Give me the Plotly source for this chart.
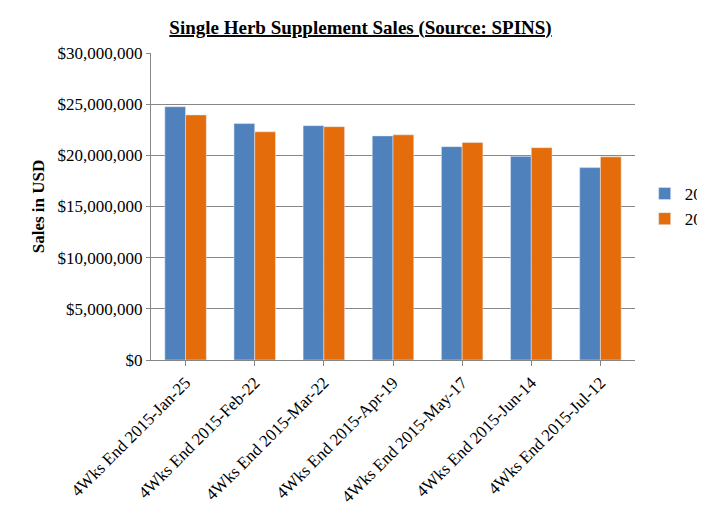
import plotly.graph_objects as go

periods = ["4Wks End 2015-Jan-25", "4Wks End 2015-Feb-22", "4Wks End 2015-Mar-22",
           "4Wks End 2015-Apr-19", "4Wks End 2015-May-17", "4Wks End 2015-Jun-14",
           "4Wks End 2015-Jul-12"]
sales_2015 = [24750000, 23100000, 22900000, 21900000, 20850000, 19900000, 18800000]
sales_2014 = [23950000, 22300000, 22800000, 22000000, 21250000, 20750000, 19850000]

fig = go.Figure()
fig.add_bar(x=periods, y=sales_2015, name="2015", marker_color="#4F81BD")
fig.add_bar(x=periods, y=sales_2014, name="2014", marker_color="#E46C0A")

font = "Liberation Serif"
fig.update_layout(
    width=705, height=510,
    plot_bgcolor="white", paper_bgcolor="white",
    font=dict(family=font, size=17, color="black"),
    title=dict(text="<b><u>Single Herb Supplement Sales (Source: SPINS)</u></b>",
               x=0.5, xanchor="center", y=0.975, font=dict(size=19)),
    margin=dict(l=143, r=78, t=45, b=158, autoexpand=False),
    bargap=0.4, bargroupgap=0,
    legend=dict(x=1.02, y=0.5, yanchor="middle", font=dict(size=17)),
)
fig.update_yaxes(range=[0, 30000000], dtick=5000000, tickprefix="$", tickformat=",",
                 showgrid=True, gridcolor="#878787", showline=True, linecolor="#878787",
                 title=dict(text="<b>Sales in USD</b>", font=dict(size=17), standoff=8),
                 ticks="outside", tickcolor="#878787", ticklen=4, automargin=False)
fig.update_xaxes(tickangle=-45, showline=True, linecolor="#878787", automargin=False,
                 ticks="outside", tickcolor="#878787", tickfont=dict(size=17))

fig.write_html("out.html")
